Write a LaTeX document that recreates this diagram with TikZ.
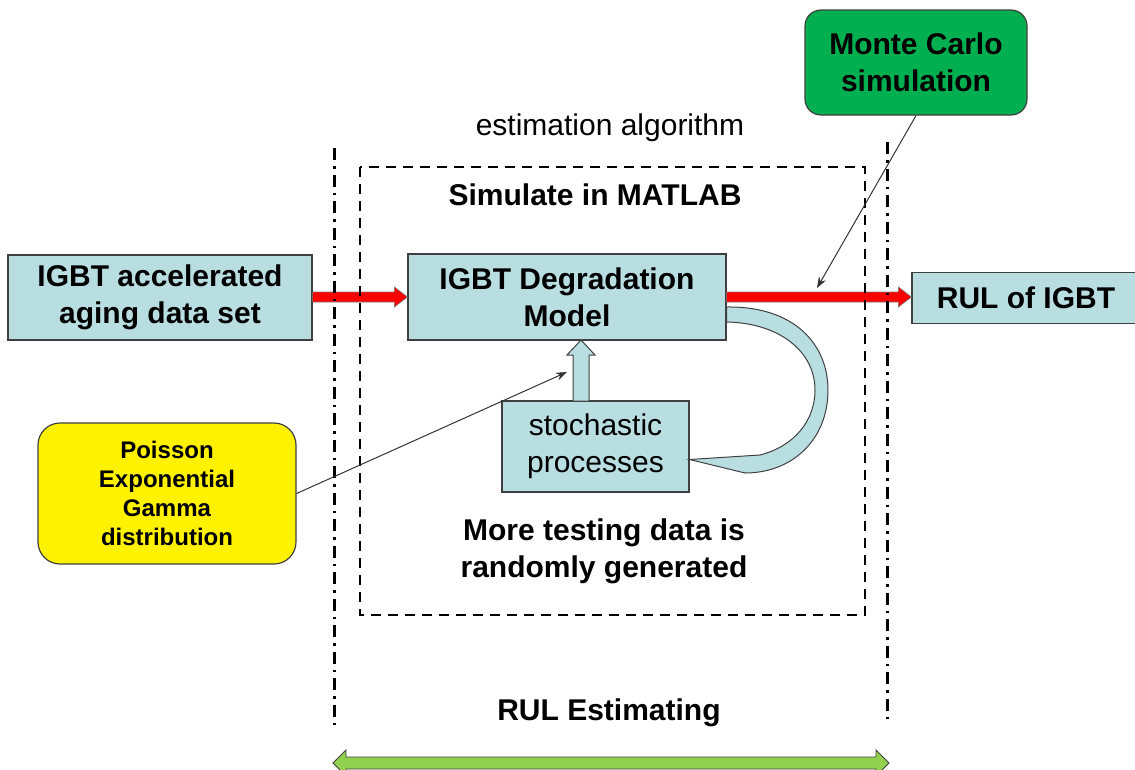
\documentclass[tikz,border=0pt]{standalone}
\usepackage{fontspec}
\setmainfont{Liberation Sans}
\usetikzlibrary{calc,arrows.meta}
\definecolor{boxblue}{RGB}{185,222,226}
\definecolor{mcgreen}{RGB}{0,176,80}
\definecolor{bargreen}{RGB}{146,208,80}
\definecolor{edgegray}{RGB}{64,64,64}
\tikzset{
  bigtext/.style={font=\fontsize{30}{37}\selectfont},
  bluebox/.style={draw=edgegray, line width=1.2pt, fill=boxblue, inner sep=0pt, align=center, bigtext},
  callout/.style={draw=edgegray, line width=1.2pt, inner sep=0pt, align=center, rounded corners=#1},
  redarrow/.style={fill=red, draw=edgegray!70, line width=0.6pt},
  blockfill/.style={fill=boxblue, draw=edgegray, line width=1pt},
  greenbar/.style={fill=bargreen, draw=edgegray, line width=0.8pt},
  thinarrow/.style={draw=black!80, line width=1pt, -{Stealth[length=11pt,width=8pt]}},
  dashdot/.style={line width=3pt, dash pattern=on 12pt off 6pt on 2.5pt off 6pt},
  dashframe/.style={line width=2.2pt, dash pattern=on 10pt off 7pt},
}
\begin{document}
\begin{tikzpicture}[x=1pt,y=-1pt]
\useasboundingbox (0,0) rectangle (1135,769);

% boxes
\node[bluebox, font=\bfseries\fontsize{30}{37}\selectfont, minimum width=304, minimum height=85] (data) at (160,297.5) {IGBT accelerated\\aging data set};
\node[bluebox, font=\bfseries\fontsize{30}{37}\selectfont, minimum width=318, minimum height=86] (model) at (567,297) {IGBT Degradation\\Model};
\node[bluebox, font=\bfseries\fontsize{30}{37}\selectfont, minimum width=228, minimum height=51] (rul) at (1026,298) {RUL of IGBT};
\node[bluebox, minimum width=187, minimum height=91] (stoch) at (595.5,446.5) {stochastic\\processes};
\node[callout=16pt, fill=mcgreen, font=\bfseries\fontsize{30}{37}\selectfont, minimum width=222, minimum height=105] (mc) at (916,62.5) {Monte Carlo\\simulation};
\node[callout=22pt, fill=yellow, font=\bfseries\fontsize{24}{29}\selectfont, minimum width=258, minimum height=141] (dist) at (167,493.5) {Poisson\\Exponential\\Gamma\\distribution};

% labels
\node[bigtext] (alg) at (610,128) {estimation algorithm};
\node[font=\bfseries\fontsize{30}{37}\selectfont] (sim) at (595,195) {Simulate in MATLAB};
\node[font=\bfseries\fontsize{30}{37}\selectfont, align=center] (more) at (604,551) {More testing data is\\randomly generated};
\node[font=\bfseries\fontsize{30}{37}\selectfont] (est) at (609,713) {RUL Estimating};

% red flow arrows
\filldraw[redarrow] ($(data.east |- model.west)+(0,-5)$) -- ($(model.west)+(-13,-5)$) -- ($(model.west)+(-13,-10)$) -- (model.west)
  -- ($(model.west)+(-13,10)$) -- ($(model.west)+(-13,5)$) -- ($(data.east |- model.west)+(0,5)$) -- cycle;
\filldraw[redarrow] ($(model.east)+(0,-5)$) -- ($(rul.west |- model.east)+(-13,-5)$) -- ($(rul.west |- model.east)+(-13,-10)$) -- (rul.west |- model.east)
  -- ($(rul.west |- model.east)+(-13,10)$) -- ($(rul.west |- model.east)+(-13,5)$) -- ($(model.east)+(0,5)$) -- cycle;

% block arrow from stochastic processes up to the model
\coordinate (upb) at (581,401);
\coordinate (upt) at (581,340);
\filldraw[blockfill] ($(upb)+(-8,0)$) -- ($(upt)+(-8,15)$) -- ($(upt)+(-14,15)$) -- (upt) -- ($(upt)+(14,15)$) -- ($(upt)+(8,15)$) -- ($(upb)+(8,0)$) -- cycle;

% feedback loop arrow from the model back to stochastic processes
\filldraw[blockfill] ($(model.east)+(0,10)$) .. controls (795,306) and (828,345) .. (828,390)
  .. controls (828,440) and (792,473) .. (745,473) -- ($(stoch.east)+(0,13)$) -- (760,455)
  .. controls (795,446) and (815,420) .. (815,390) .. controls (815,352) and (780,323) .. ($(model.east)+(0,25)$) -- cycle;

% frames
\draw[dashframe] (360,167) rectangle (865,615);
\draw[dashdot] (334,148) -- (334,730);
\draw[dashdot] (887,142) -- (887,722);

% callout pointers
\coordinate (mctip) at (817,288);
\coordinate (disttip) at (567,372);
\draw[thinarrow] (mc.south) -- (mctip);
\draw[thinarrow] (dist.east) -- (disttip);

% span of the RUL estimation
\coordinate (gl) at (333,763);
\coordinate (gr) at (889,763);
\filldraw[greenbar] (gl) -- ($(gl)+(13,-13)$) -- ($(gl)+(13,-6)$) -- ($(gr)+(-13,-6)$) -- ($(gr)+(-13,-13)$) -- (gr)
  -- ($(gr)+(-13,13)$) -- ($(gr)+(-13,6)$) -- ($(gl)+(13,6)$) -- ($(gl)+(13,13)$) -- cycle;
\end{tikzpicture}
\end{document}
